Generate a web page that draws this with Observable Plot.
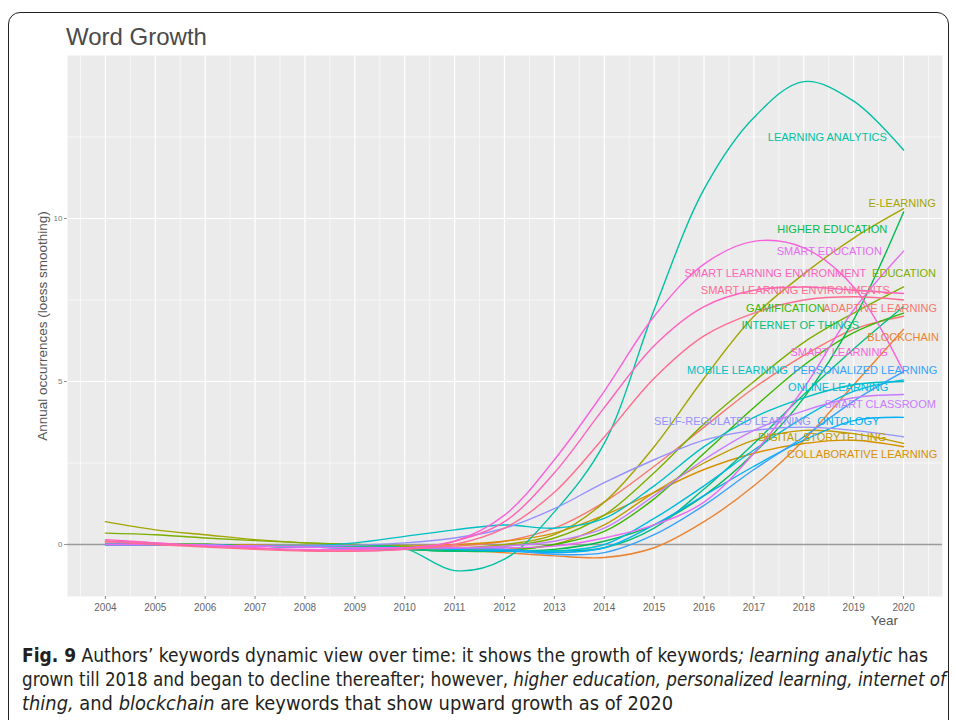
<!DOCTYPE html>
<html><head><meta charset="utf-8">
<script src="https://cdn.jsdelivr.net/npm/d3@7"></script>
<script src="https://cdn.jsdelivr.net/npm/@observablehq/plot@0.6"></script>
<style>
html,body{margin:0;padding:0;background:#fff;overflow:hidden;width:956px;height:720px;}
#wrap{position:relative;width:956px;height:720px;font-family:"Liberation Sans",Arial,sans-serif;overflow:hidden;}
#frame{position:absolute;left:8px;top:12px;width:941px;height:780px;border:1.6px solid #222;border-radius:12px;box-sizing:border-box;}
#chart{position:absolute;left:0;top:0;}
#title{position:absolute;left:66px;top:25px;font-size:24px;line-height:24px;color:#4a4a4a;white-space:nowrap;}
#ytitle{position:absolute;left:42px;top:326px;transform:translate(-50%,-50%) rotate(-90deg);font-size:13.5px;color:#555;white-space:nowrap;}
#xtitle{position:absolute;right:58px;top:613px;font-size:13.5px;line-height:16px;color:#555;}
.cap{position:absolute;left:22px;font-family:"Liberation Sans Narrow","DejaVu Sans Condensed","Liberation Sans",Arial,sans-serif;font-size:19px;line-height:24px;color:#231f20;white-space:nowrap;transform-origin:0 50%;}
</style></head>
<body>
<div id="wrap">
  <div id="chart"></div>
  <div id="frame"></div>
  <div id="title">Word Growth</div>
  <div id="ytitle">Annual occurrences (loess smoothing)</div>
  <div id="xtitle">Year</div>
  <div class="cap" id="cap1" style="top:643px" data-w="906"><b>Fig. 9</b> Authors’ keywords dynamic view over time: it shows the growth of keywords<i>;</i> <i>learning analytic</i> has</div>
  <div class="cap" id="cap2" style="top:667px" data-w="924">grown till 2018 and began to decline thereafter; however, <i>higher education, personalized learning, internet of</i></div>
  <div class="cap" id="cap3" style="top:691px" data-w="651"><i>thing,</i> and <i>blockchain</i> are keywords that show upward growth as of 2020</div>
</div>
<script>
// ---- data ----
const years = [2004,2005,2006,2007,2008,2009,2010,2011,2012,2013,2014,2015,2016,2017,2018,2019,2020];
const yTicks = [0, 5, 10];
const yMinorTicks = [2.5, 7.5, 12.5];

const keywords = ["ADAPTIVE LEARNING","BLOCKCHAIN","COLLABORATIVE LEARNING","DIGITAL STORYTELLING","E-LEARNING","EDUCATION","GAMIFICATION","HIGHER EDUCATION","INTERNET OF THINGS","LEARNING ANALYTICS","MOBILE LEARNING","ONLINE LEARNING","ONTOLOGY","PERSONALIZED LEARNING","SELF-REGULATED LEARNING","SMART CLASSROOM","SMART EDUCATION","SMART LEARNING","SMART LEARNING ENVIRONMENT","SMART LEARNING ENVIRONMENTS"];
const keywordColors = ["#F8766D","#EA8331","#D89000","#C09B00","#A3A500","#7CAE00","#39B600","#00BB4E","#00BF7D","#00C1A3","#00BFC4","#00BAE0","#00B0F6","#35A2FF","#9590FF","#C77CFF","#E76BF3","#FA62DB","#FF62BC","#FF6C91"];

const adaptiveLearning        = [0.05,0.02,0,-0.05,-0.08,-0.1,-0.1,-0.05,0.1,0.5,1.3,2.4,3.6,4.8,5.8,6.6,7.0];
const blockchain              = [0,0,0,-0.02,-0.05,-0.08,-0.1,-0.15,-0.25,-0.35,-0.4,-0.1,0.7,1.8,3.2,4.9,6.6];
const collaborativeLearning   = [0,0,-0.02,-0.05,-0.05,-0.05,-0.05,0,0.1,0.35,0.9,1.6,2.3,2.8,3.1,3.2,3.0];
const digitalStorytelling     = [0,0,0,-0.02,-0.05,-0.08,-0.1,-0.15,-0.15,0,0.6,1.6,2.5,3.2,3.5,3.4,3.1];
const eLearning               = [0.7,0.45,0.3,0.15,0.05,0,-0.05,-0.1,0,0.3,1.3,3.0,5.1,7.0,8.3,9.4,10.3];
const education               = [0.35,0.3,0.2,0.12,0.05,0,-0.05,-0.1,-0.05,0.2,0.9,2.2,3.7,5.0,6.2,7.1,7.9];
const gamification            = [0,0,0,-0.05,-0.08,-0.1,-0.15,-0.2,-0.2,0,0.4,1.4,2.8,4.2,5.5,6.5,7.1];
const higherEducation         = [0,0,0,-0.05,-0.08,-0.1,-0.15,-0.2,-0.2,-0.15,0.1,0.6,1.5,2.8,4.5,6.9,10.2];
const internetOfThings        = [0,0,0,-0.05,-0.08,-0.1,-0.15,-0.2,-0.2,-0.2,-0.1,0.5,1.7,3.1,4.6,6.0,7.3];
const learningAnalytics       = [0,0,-0.03,-0.05,-0.05,-0.05,-0.12,-0.8,-0.45,1.0,3.1,7.2,10.9,13.1,14.2,13.6,12.1];
const mobileLearning          = [0,0,-0.02,-0.05,-0.05,0.05,0.25,0.45,0.6,0.5,0.8,1.8,3.0,3.9,4.5,4.9,5.0];
const onlineLearning          = [0,0,-0.02,-0.05,-0.08,-0.1,-0.1,-0.1,-0.15,-0.2,0,0.8,1.8,2.9,3.9,4.7,5.05];
const ontology                = [0,0,-0.02,-0.05,-0.08,-0.1,-0.1,-0.15,-0.2,-0.25,-0.1,0.6,1.5,2.4,3.2,3.8,3.9];
const personalizedLearning    = [0,0,-0.02,-0.05,-0.08,-0.1,-0.1,-0.1,-0.15,-0.3,-0.25,0.3,1.2,2.3,3.3,4.4,5.3];
const selfRegulatedLearning   = [0,0,-0.02,-0.05,-0.05,-0.02,0.05,0.2,0.5,1.1,1.9,2.6,3.2,3.5,3.6,3.5,3.3];
const smartClassroom          = [0,0,-0.02,-0.05,-0.08,-0.1,-0.1,-0.1,-0.05,0.1,0.5,1.5,2.6,3.5,4.1,4.5,4.6];
const smartEducation          = [0,0,-0.02,-0.05,-0.08,-0.1,-0.1,-0.1,-0.1,-0.05,0.2,0.6,1.3,2.8,4.8,7.2,9.0];
const smartLearning           = [0.1,0.05,-0.05,-0.1,-0.15,-0.15,-0.1,0.1,0.9,2.6,4.7,7.0,8.6,9.3,9.1,7.9,5.3];
const smartLearningEnvironment  = [0.15,0.05,-0.05,-0.12,-0.18,-0.2,-0.15,0.1,0.7,2.2,4.2,6.1,7.3,7.8,7.9,7.8,7.7];
const smartLearningEnvironments = [0.1,0.0,-0.08,-0.15,-0.2,-0.2,-0.15,0.0,0.5,1.6,3.3,5.1,6.4,7.1,7.5,7.6,7.5];

const seriesValues = [adaptiveLearning,blockchain,collaborativeLearning,digitalStorytelling,eLearning,education,gamification,higherEducation,internetOfThings,learningAnalytics,mobileLearning,onlineLearning,ontology,personalizedLearning,selfRegulatedLearning,smartClassroom,smartEducation,smartLearning,smartLearningEnvironment,smartLearningEnvironments];

// repelled label positions (data units)
const labelKeyword = ["LEARNING ANALYTICS","E-LEARNING","HIGHER EDUCATION","SMART EDUCATION","SMART LEARNING ENVIRONMENT","EDUCATION","SMART LEARNING ENVIRONMENTS","GAMIFICATION","ADAPTIVE LEARNING","INTERNET OF THINGS","BLOCKCHAIN","SMART LEARNING","MOBILE LEARNING","PERSONALIZED LEARNING","ONLINE LEARNING","SMART CLASSROOM","SELF-REGULATED LEARNING","ONTOLOGY","DIGITAL STORYTELLING","COLLABORATIVE LEARNING"];
const labelYear  = [2018.47,2019.97,2018.57,2018.51,2017.43,2020.01,2017.83,2017.63,2019.53,2017.93,2019.99,2018.71,2016.67,2019.23,2018.69,2019.53,2016.57,2018.89,2018.37,2019.17];
const labelValue = [12.48,10.46,9.66,8.99,8.31,8.31,7.79,7.24,7.24,6.72,6.35,5.89,5.34,5.34,4.82,4.29,3.77,3.77,3.28,2.76];

// ---- build tables ----
const rows = [];
keywords.forEach((k, i) => years.forEach((yr, j) => rows.push({keyword: k, year: yr, value: seriesValues[i][j]})));
const labels = labelKeyword.map((k, i) => ({keyword: k, year: labelYear[i], value: labelValue[i]}));
const xMinor = years.slice(0, -1).map((y, i) => (y + years[i + 1]) / 2).concat([years[0] - 0.5, years[years.length - 1] + 0.5]);

const chart = Plot.plot({
  width: 956, height: 640,
  marginTop: 55, marginBottom: 44, marginLeft: 67, marginRight: 14,
  style: {fontFamily: '"Liberation Sans", Arial, sans-serif', background: "transparent"},
  x: {domain: [2003.24, 2020.78]},
  y: {domain: [-1.595, 15.0]},
  color: {domain: keywords, range: keywordColors},
  marks: [
    Plot.frame({fill: "#EBEBEB", stroke: null}),
    Plot.ruleX(xMinor, {stroke: "#fff", strokeWidth: 0.6}),
    Plot.ruleY(yMinorTicks, {stroke: "#fff", strokeWidth: 0.6}),
    Plot.ruleX(years, {stroke: "#fff", strokeWidth: 1.2}),
    Plot.ruleY(yTicks, {stroke: "#fff", strokeWidth: 1.2}),
    Plot.ruleY([0], {stroke: "#9b9b9b", strokeWidth: 1.3}),
    Plot.axisX(years, {tickFormat: d => String(d), tickSize: 3, tickPadding: 4, fontSize: 10, color: "#666", stroke: "#888", label: null}),
    Plot.axisY(yTicks, {tickSize: 3, tickPadding: 2, fontSize: 8, color: "#777", stroke: "#999", label: null}),
    Plot.line(rows, {x: "year", y: "value", z: "keyword", stroke: "keyword", strokeWidth: 1.4, curve: "catmull-rom"}),
    Plot.text(labels, {x: "year", y: "value", text: "keyword", fill: "keyword", fontSize: 11, textAnchor: "middle"})
  ]
});
document.getElementById("chart").appendChild(chart);

// fit caption lines to their widths
document.querySelectorAll(".cap").forEach(el => {
  const w = el.getBoundingClientRect().width;
  const target = +el.dataset.w;
  el.style.transform = `scaleX(${target / w})`;
});
</script>
</body></html>
